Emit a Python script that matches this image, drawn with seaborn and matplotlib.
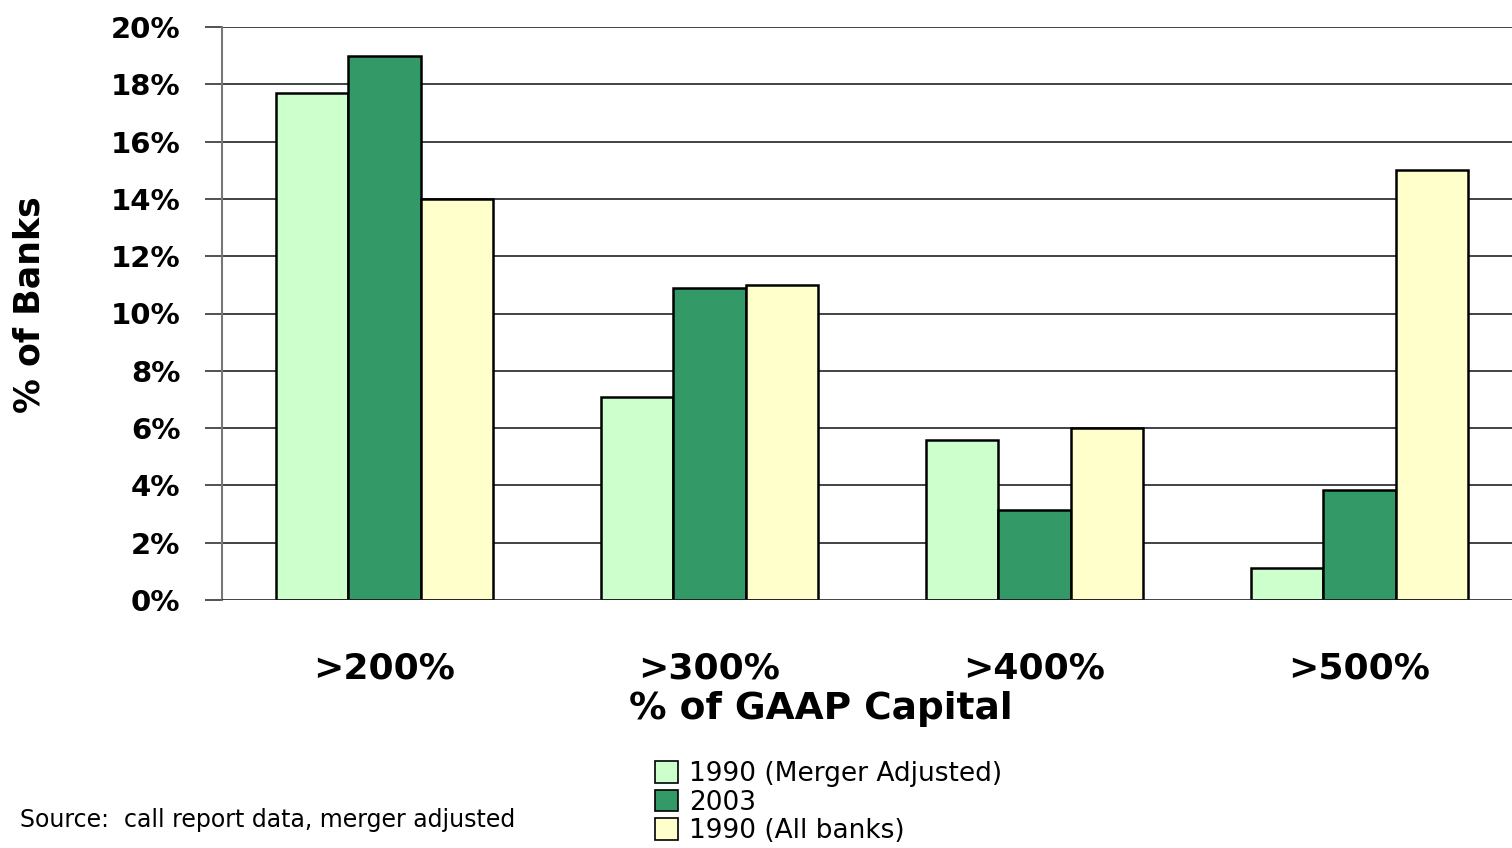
import pandas as pd
import matplotlib.pyplot as plt
import seaborn as sns
from matplotlib.patches import Patch

# Data
categories = ['>200%', '>300%', '>400%', '>500%']
series_names = ['1990 (Merger Adjusted)', '2003', '1990 (All banks)']
merger_adj_1990 = [17.7, 7.1, 5.6, 1.1]
banks_2003 = [19.0, 10.9, 3.15, 3.85]
all_banks_1990 = [14.0, 11.0, 6.0, 15.0]
colors = ['#CCFFCC', '#339966', '#FFFFCC']
y_ticks = [0, 2, 4, 6, 8, 10, 12, 14, 16, 18, 20]

df = pd.DataFrame({
    'category': categories * 3,
    'series': [series_names[0]] * 4 + [series_names[1]] * 4 + [series_names[2]] * 4,
    'value': merger_adj_1990 + banks_2003 + all_banks_1990,
})

sns.set_style('white')
plt.rcParams['font.family'] = ['DejaVu Sans']
plt.rcParams['text.color'] = 'black'
plt.rcParams['axes.labelcolor'] = 'black'
plt.rcParams['xtick.labelcolor'] = 'black'
plt.rcParams['ytick.labelcolor'] = 'black'

fig = plt.figure(figsize=(15.12, 8.48), dpi=100)
ax = fig.add_axes([222 / 1512, 1 - 600 / 848, 1300 / 1512, 573 / 848])

sns.barplot(data=df, x='category', y='value', hue='series', order=categories,
            hue_order=series_names, palette=colors, saturation=1, width=0.67,
            edgecolor='black', linewidth=1.8, ax=ax, legend=False, zorder=3)

ax.set_xlim(-0.5, 3.5)
ax.set_ylim(0, 20)
ax.set_yticks(y_ticks)
ax.set_yticklabels([f'{t}%' for t in y_ticks], fontsize=21, fontweight='bold')
for t in y_ticks[1:]:
    ax.axhline(t, color='#222222', linewidth=1.2, zorder=1)
ax.axhline(0, color='#222222', linewidth=1.2, zorder=4)

# category separators as ticks below the axis
ax.set_xticks([-0.5, 0.5, 1.5, 2.5], minor=True)
ax.tick_params(axis='x', which='minor', length=9, width=1.2, color='#777777', direction='out')
ax.tick_params(axis='x', which='major', length=0, pad=37)
ax.set_xticklabels(categories, fontsize=26, fontweight='bold')
ax.tick_params(axis='y', length=12, width=1.2, color='#333333', direction='out', pad=18, left=True)

for s in ['top', 'right', 'bottom']:
    ax.spines[s].set_visible(False)
ax.spines['left'].set_color('#777777')
ax.spines['left'].set_linewidth(1.5)

ax.set_xlabel('% of GAAP Capital', fontsize=27, fontweight='bold')
ax.xaxis.set_label_coords(0.4608, -0.158)
ax.set_ylabel('% of Banks', fontsize=25, fontweight='bold')
ax.yaxis.set_label_coords(-0.135, 0.515)

handles = [Patch(facecolor=c, edgecolor='black', linewidth=1.2) for c in colors]
fig.legend(handles, series_names, loc='upper left', bbox_to_anchor=(655 / 1512, 1 - 761 / 848),
           frameon=False, fontsize=19, handlelength=0.88, handleheight=0.88,
           handletextpad=0.4, labelspacing=0.1, borderpad=0, borderaxespad=0)

fig.text(515 / 1512, 1 - 820 / 848, 'Source:  call report data, merger adjusted',
         ha='right', va='center', fontsize=17)

fig.savefig('out.png', dpi=100)
